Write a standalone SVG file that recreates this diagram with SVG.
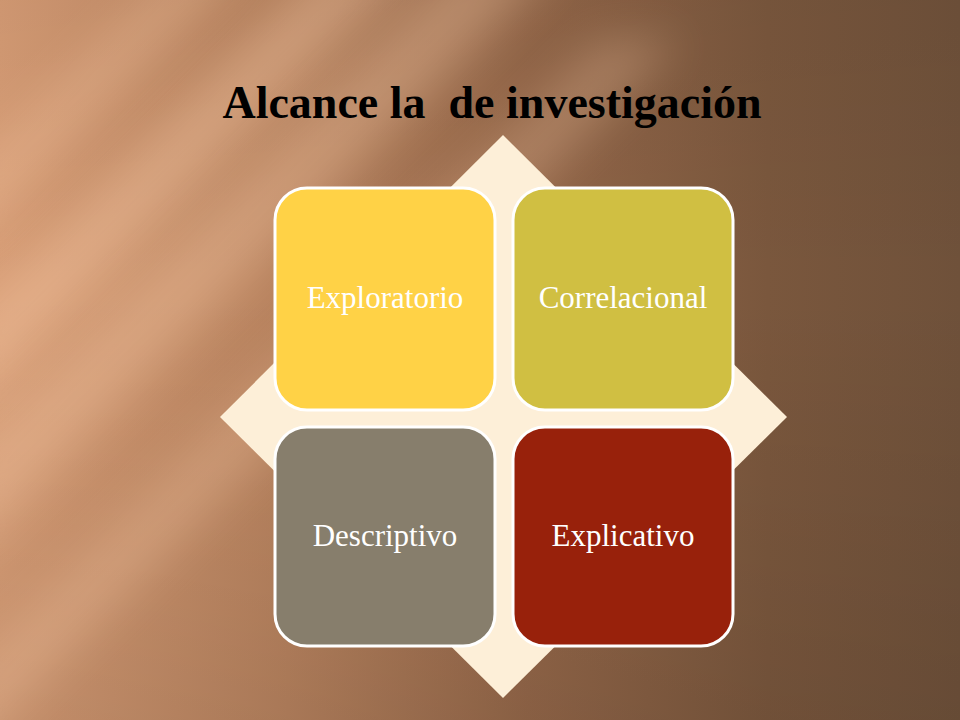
<svg xmlns="http://www.w3.org/2000/svg" width="960" height="720" viewBox="0 0 960 720">
<defs>
<linearGradient id="bg" x1="0" y1="0" x2="1" y2="0">
<stop offset="0" stop-color="#D69C75"/>
<stop offset="0.3" stop-color="#B7825E"/>
<stop offset="0.55" stop-color="#946749"/>
<stop offset="0.8" stop-color="#7A573D"/>
<stop offset="1" stop-color="#6F513A"/>
</linearGradient>
<linearGradient id="vshade" x1="0" y1="0" x2="0" y2="1">
<stop offset="0" stop-color="#000" stop-opacity="0.04"/>
<stop offset="0.4" stop-color="#000" stop-opacity="0"/>
<stop offset="1" stop-color="#000" stop-opacity="0.08"/>
</linearGradient>
<filter id="soft" x="-50%" y="-50%" width="200%" height="200%">
<feGaussianBlur stdDeviation="22"/>
</filter>
<style>
.band{fill:#FFD2AE;filter:url(#soft)}
.box{stroke:#FFFFFF;stroke-width:3}
.lbl{font-family:"Liberation Serif","DejaVu Serif",serif;font-size:31px;fill:#FFFFFF;text-anchor:middle}
.title{font-family:"Liberation Serif","DejaVu Serif",serif;font-size:46px;font-weight:bold;fill:#000000;text-anchor:middle}
</style>
</defs>
<g id="background">
<rect x="0" y="0" width="960" height="720" fill="url(#bg)"/>
<rect x="0" y="0" width="960" height="720" fill="url(#vshade)"/>
<polygon class="band" points="330,-40 420,-40 -40,420 -40,330" opacity="0.35"/>
<polygon class="band" points="460,-40 560,-40 -40,560 -40,460" opacity="0.3"/>
<polygon class="band" points="600,40 680,40 -40,760 -40,680" opacity="0.25"/>
<polygon class="band" points="180,-40 250,-40 -40,250 -40,180" opacity="0.25"/>
</g>
<g id="title">
<text class="title" x="492" y="118" xml:space="preserve">Alcance la  de investigación</text>
</g>
<g id="diamond">
<polygon points="503,135 787,417 503,698 220,417" fill="#FDEFD8"/>
</g>
<g id="node-exploratorio">
<rect class="box" x="275" y="188" width="220" height="222" rx="32" fill="#FFD246"/>
<text class="lbl" x="385" y="308">Exploratorio</text>
</g>
<g id="node-correlacional">
<rect class="box" x="513" y="188" width="220" height="222" rx="32" fill="#D0BF42"/>
<text class="lbl" x="623" y="308">Correlacional</text>
</g>
<g id="node-descriptivo">
<rect class="box" x="275" y="427" width="220" height="219" rx="32" fill="#877E6C"/>
<text class="lbl" x="385" y="546">Descriptivo</text>
</g>
<g id="node-explicativo">
<rect class="box" x="513" y="427" width="220" height="219" rx="32" fill="#98210B"/>
<text class="lbl" x="623" y="546">Explicativo</text>
</g>
<g id="connectors"></g>
</svg>
